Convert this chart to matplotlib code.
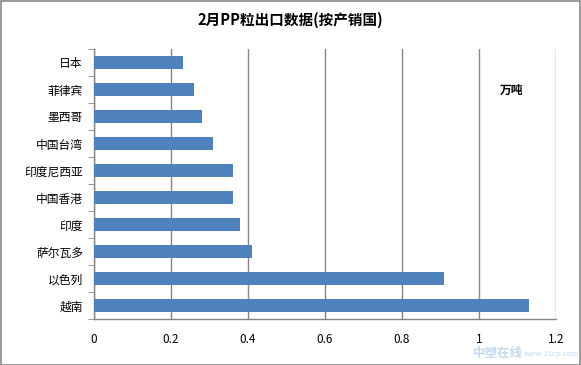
import matplotlib
matplotlib.use("Agg")
import matplotlib.pyplot as plt
import numpy as np

plt.rcParams['font.family'] = ['Noto Sans CJK SC', 'DejaVu Sans']

categories = ["越南", "以色列", "萨尔瓦多", "印度", "中国香港", "印度尼西亚", "中国台湾", "墨西哥", "菲律宾", "日本"]
values = [1.13, 0.91, 0.41, 0.38, 0.36, 0.36, 0.31, 0.28, 0.26, 0.23]
xticks = [0, 0.2, 0.4, 0.6, 0.8, 1, 1.2]
xticklabels = ["0", "0.2", "0.4", "0.6", "0.8", "1", "1.2"]
title = "2月PP粒出口数据(按产销国)"
unit = "万吨"

W, H = 581, 365
fig = plt.figure(figsize=(W/100, H/100), dpi=100)
fig.patch.set_facecolor("white")
fig.add_artist(plt.Rectangle((0.5/W, 0.5/H), 1-1.5/W, 1-1.5/H, transform=fig.transFigure,
                             fill=False, edgecolor="#898989", linewidth=1.2))

left, right, bottom, top = 94, 556, 319, 49
ax = fig.add_axes([left/W, 1-bottom/H, (right-left)/W, (bottom-top)/H])
y = np.arange(len(categories))
ax.barh(y, values, height=0.45, color="#4F81BD", zorder=3)
ax.set_xlim(0, 1.2)
ax.set_ylim(-0.5, len(categories)-0.5)
ax.set_xticks(xticks)
ax.set_xticklabels(xticklabels, fontsize=8.5)
ax.set_yticks(y)
ax.set_yticklabels(categories, fontsize=8.5)
ax.set_yticks(np.arange(-0.5, len(categories), 1), minor=True)
ax.tick_params(axis='y', which='major', length=0, pad=8)
ax.tick_params(axis='y', which='minor', length=4, color="#868686", direction='out')
ax.tick_params(axis='x', length=0, pad=10)
ax.grid(axis='x', color="#868686", linewidth=1, zorder=0)
for s in ["top", "right"]:
    ax.spines[s].set_visible(False)
for s in ["left", "bottom"]:
    ax.spines[s].set_color("#868686")
    ax.spines[s].set_linewidth(1)

fig.text(0.5, 1-20/H, title, ha="center", va="center", fontsize=10.5, fontweight="bold")
fig.text(512/W, 1-90/H, unit, ha="center", va="center", fontsize=8.5, fontweight="bold")

# watermark (kept clear of the tick labels)
fig.text(498/W, 1-353/H, "中塑在线", ha="center", va="center", fontsize=9, fontweight="bold",
         fontstyle="italic", color="#C5D9EE", zorder=10)
fig.text(524/W, 1-354/H, "www.21cp.com", ha="left", va="center", fontsize=5.5,
         fontstyle="italic", color="#C5D9EE", zorder=9)

fig.savefig("out.png", dpi=100, facecolor="white")
